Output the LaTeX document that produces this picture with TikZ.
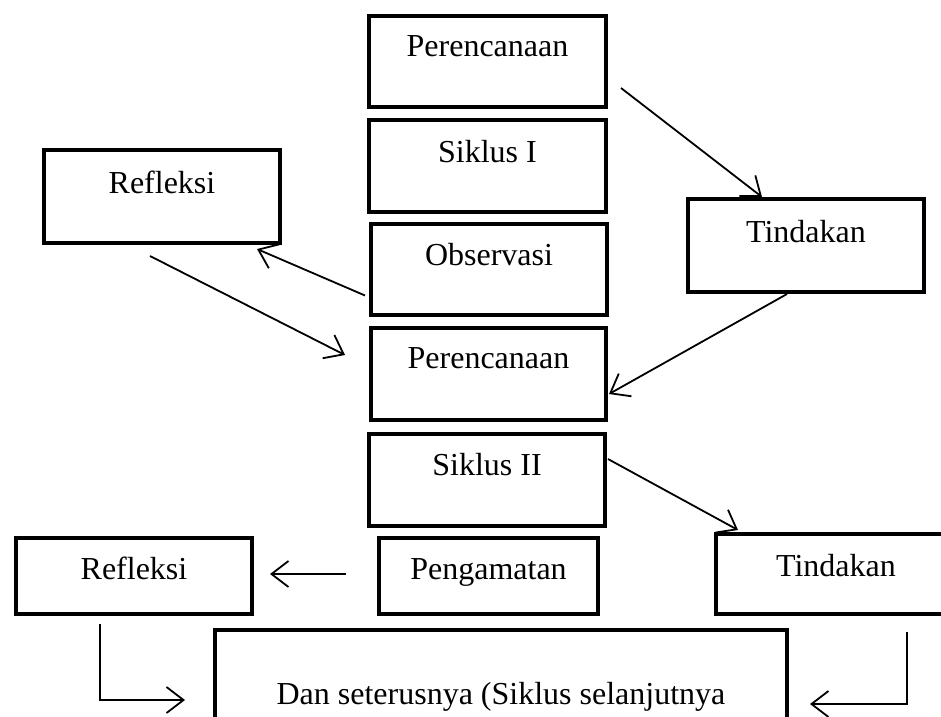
\documentclass[tikz,border=0pt]{standalone}
\usepackage{fontspec}
\setmainfont{Liberation Serif}
\usetikzlibrary{arrows.meta}
\begin{document}
\begin{tikzpicture}[x=1pt,y=-1pt,
  box/.style={draw, line width=4pt, rectangle, inner sep=0pt, anchor=north west,
    font=\fontsize{32}{38}\selectfont},
  arr/.style={line width=1.8pt, -{Straight Barb[length=17pt,width=26pt,line width=1.8pt]}}]
\useasboundingbox (0,0) rectangle (941,716);
\clip (0,0) rectangle (941,716);
\fill[white] (0,0) rectangle (941,716);
% column
\node[box, minimum width=237pt, text height=40pt, text depth=51pt] (p1) at (367,14) {Perencanaan};
\node[box, minimum width=237pt, text height=42pt, text depth=50pt] (s1) at (367,118) {Siklus I};
\node[box, minimum width=236pt, text height=41pt, text depth=50pt] (obs) at (369,222) {Observasi};
\node[box, minimum width=235pt, text height=40pt, text depth=52pt] (p2) at (369,326) {Perencanaan};
\node[box, minimum width=236pt, text height=41pt, text depth=51pt] (s2) at (367,432) {Siklus II};
\node[box, minimum width=219pt, text height=41pt, text depth=35pt] (peng) at (377,536) {Pengamatan};
% sides
\node[box, minimum width=236pt, text height=43pt, text depth=50pt] (r1) at (42,148) {Refleksi};
\node[box, minimum width=236pt, text height=43pt, text depth=50pt] (t1) at (686,197) {Tindakan};
\node[box, minimum width=236pt, text height=41pt, text depth=35pt] (r2) at (14,536) {Refleksi};
\node[box, minimum width=240pt, text height=42pt, text depth=38pt] (t2) at (714,532) {Tindakan};
\node[box, minimum width=572pt, text height=74pt, text depth=60pt] (dan) at (213,628) {Dan seterusnya (Siklus selanjutnya};
% connectors
\draw[arr] ([xshift=13pt,yshift=21pt]p1.south east) -- ([xshift=76pt]t1.north west);
\draw[arr] ([xshift=-19pt]t1.south) -- ([xshift=1pt,yshift=-20pt]p2.east);
\draw[arr] ([xshift=-4pt,yshift=-26pt]obs.west) -- ([xshift=-25pt,yshift=-4pt]r1.south east);
\draw[arr] ([xshift=-12pt,yshift=-11pt]r1.south) -- ([xshift=-24pt,yshift=19pt]p2.west);
\draw[arr] ([xshift=1pt,yshift=21pt]s2.east) -- ([xshift=24pt,yshift=2pt]t2.north west);
\draw[arr] ([xshift=-31pt,yshift=2pt]peng.west) -- ([xshift=16pt,yshift=2pt]r2.east);
\draw[arr] ([xshift=-34pt,yshift=-8pt]r2.south) |- ([xshift=-28pt,yshift=-72pt]dan.north west);
\draw[arr] ([xshift=71pt,yshift=-16pt]t2.south) |- ([xshift=21pt,yshift=-76pt]dan.north east);
\end{tikzpicture}
\end{document}
